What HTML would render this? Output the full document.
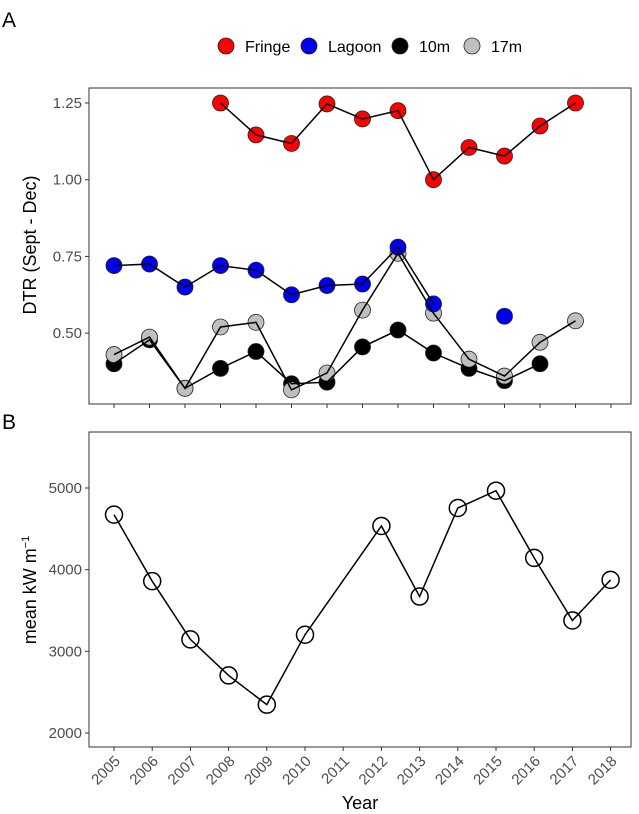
<!DOCTYPE html>
<html><head><meta charset="utf-8"><style>
body{margin:0;background:#fff}
svg{display:block;font-family:"Liberation Sans",sans-serif}
</style></head><body>
<svg id="chart" width="639" height="814" viewBox="0 0 639 814">
<text x="2" y="27" font-size="21" fill="#000">A</text>
<text x="2" y="429" font-size="21" fill="#000">B</text>
<g id="legend"></g>
<rect x="89" y="88" width="542" height="316" fill="none" stroke="#333" stroke-width="1"/>
<rect x="89" y="432" width="542" height="315" fill="none" stroke="#333" stroke-width="1"/>
<text transform="translate(36,245) rotate(-90)" text-anchor="middle" font-size="18" fill="#000">DTR (Sept - Dec)</text>
<text transform="translate(36,590) rotate(-90)" text-anchor="middle" font-size="18" fill="#000">mean kW m<tspan dy="-7" font-size="11">−1</tspan></text>
<text x="360" y="809" text-anchor="middle" font-size="18" fill="#000">Year</text>
<g id="ga"></g><g id="gb"></g>
</svg>
<script>
const yearsA = ["2004","2005","2006","2007","2008","2009","2010","2011","2012","2013","2014","2015","2016","2017","2018"];
const fringe = [null,null,null,1.25,1.146,1.118,1.247,1.198,1.225,1.0,1.105,1.077,1.175,1.25,null];
const lagoon = [0.72,0.725,0.65,0.72,0.705,0.625,0.655,0.66,0.78,0.595,null,0.555,null,null,null];
const m10 = [0.40,0.478,0.32,0.385,0.44,0.335,0.34,0.455,0.51,0.435,0.385,0.345,0.40,null,null];
const m17 = [0.43,0.487,0.32,0.52,0.535,0.315,0.37,0.575,0.76,0.565,0.415,0.36,0.47,0.54,null];
const ticksA = [0.50,0.75,1.00,1.25];
const yearsB = ["2005","2006","2007","2008","2009","2010","2011","2012","2013","2014","2015","2016","2017","2018"];
const energy = [4674,3859,3146,2705,2347,3203,null,4535,3671,4755,4967,4144,3378,3875];
const ticksB = [2000,3000,4000,5000];

const NS="http://www.w3.org/2000/svg";
function mk(tag,attrs,parent){const e=document.createElementNS(NS,tag);for(const k in attrs)e.setAttribute(k,attrs[k]);parent.appendChild(e);return e;}
const xA=i=>114+i*35.5, yA=v=>103+(1.25-v)/0.25*76.7;
const xB=i=>114+i*38.2, yB=v=>488+(5000-v)*0.08167;
const ga=document.getElementById('ga'), gb=document.getElementById('gb');

ticksA.forEach(t=>{
  const l=mk('line',{x1:85,x2:89,y1:yA(t),y2:yA(t),stroke:'#333'},ga);
  
  
  const tx=mk('text',{x:82,y:yA(t)+5,'text-anchor':'end','font-size':15,fill:'#4d4d4d'},ga);
  tx.textContent=t.toFixed(2);
  
  
});
yearsA.forEach((y,i)=>{
  const l=mk('line',{x1:xA(i),x2:xA(i),y1:404,y2:408,stroke:'#333'},ga);
  
  
});
function points(arr,fill,name){
  arr.forEach((v,i)=>{ if(v==null)return;
    const c=mk('circle',{cx:xA(i),cy:yA(v),r:8,fill:fill,stroke:'#222','stroke-width':0.8},ga);
    
    
  });
}
function lines(arr,name){
  let segs=[],cur=[];
  arr.forEach((v,i)=>{ if(v==null){ if(cur.length)segs.push(cur);cur=[];} else cur.push(xA(i)+','+yA(v)); });
  if(cur.length)segs.push(cur);
  segs.forEach(s=>{ if(s.length>1){const p=mk('polyline',{points:s.join(' '),fill:'none',stroke:'#000','stroke-width':1.5},ga);
    
    }});
}
points(m10,'#000','10m');
points(m17,'#bfbfbf','17m');
points(lagoon,'#0000ee','lagoon');
points(fringe,'#ff0000','fringe');
lines(m10,'10m');lines(m17,'17m');lines(lagoon,'lagoon');lines(fringe,'fringe');

ticksB.forEach(t=>{
  const l=mk('line',{x1:85,x2:89,y1:yB(t),y2:yB(t),stroke:'#333'},gb);
  
  
  const tx=mk('text',{x:82,y:yB(t)+5,'text-anchor':'end','font-size':15,fill:'#4d4d4d'},gb);
  tx.textContent=t;
  
  
});
yearsB.forEach((y,i)=>{
  const l=mk('line',{x1:xB(i),x2:xB(i),y1:747,y2:751,stroke:'#333'},gb);
  
  
  const tx=mk('text',{transform:`translate(${xB(i)+7},762) rotate(-45)`,'text-anchor':'end','font-size':15,fill:'#4d4d4d'},gb);
  tx.textContent=y;
  
  
});
const ptsB=[];energy.forEach((v,i)=>{if(v!=null)ptsB.push(xB(i)+','+yB(v));});
energy.forEach((v,i)=>{ if(v==null)return;
  const c=mk('circle',{cx:xB(i),cy:yB(v),r:8.5,fill:'none',stroke:'#000','stroke-width':1.5},gb);
  
  
});
const pl=mk('polyline',{points:ptsB.join(' '),fill:'none',stroke:'#000','stroke-width':1.5},gb);



const lg=document.getElementById('legend');
const legNames=["Fringe","Lagoon","10m","17m"], legFill=['#ff0000','#0000ee','#000','#bfbfbf'], legX=[226,309,400,472];
legNames.forEach((n,i)=>{
  const c=mk('circle',{cx:legX[i],cy:46,r:8,fill:legFill[i],stroke:'#222','stroke-width':0.8},lg);
  
  
  const t=mk('text',{x:legX[i]+19,y:52,'font-size':16,fill:'#000'},lg);
  t.textContent=n;
  
  
});
</script>
</body></html>
